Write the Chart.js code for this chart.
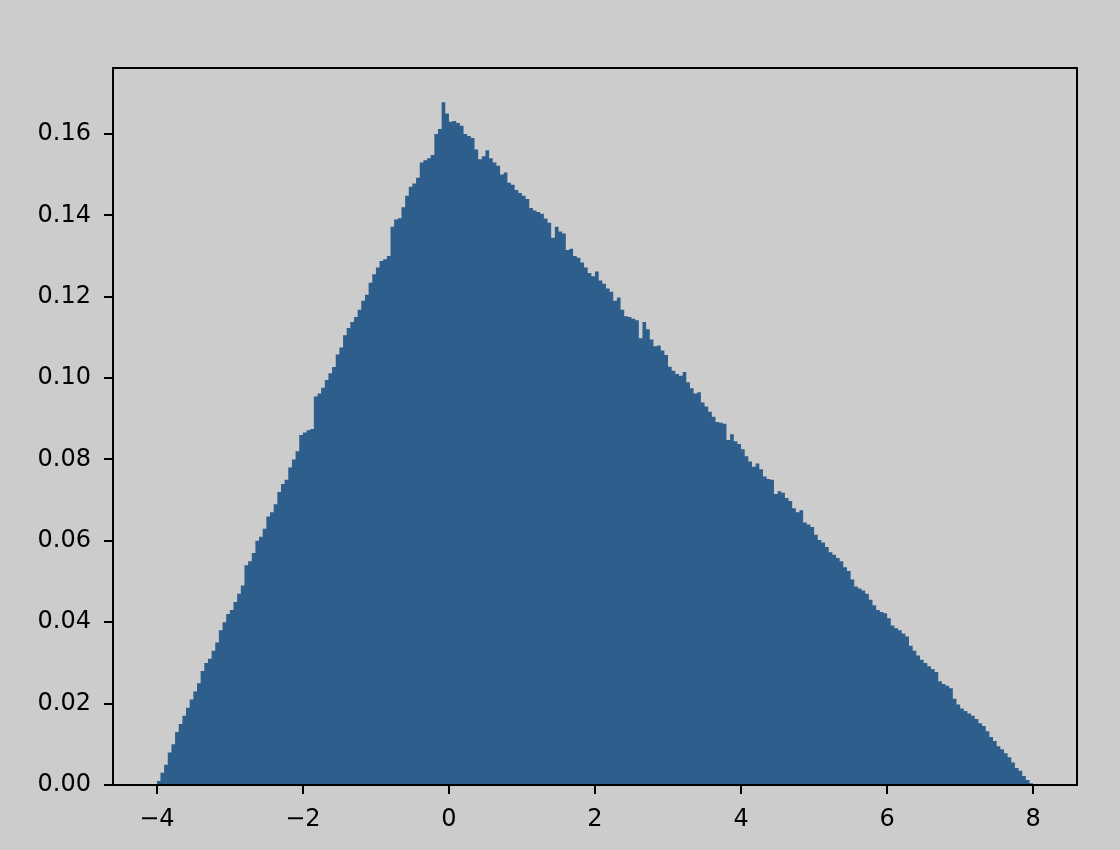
<!DOCTYPE html>
<html>
<head>
<meta charset="utf-8">
<script src="https://cdn.jsdelivr.net/npm/chart.js@4.4.1/dist/chart.umd.min.js"></script>
<style>
    html, body { margin: 0; padding: 0; background: #cccccc; }
    #wrap { width: 1120px; height: 850px; }
</style>
</head>
<body>
<div id="wrap"><canvas id="histChart" width="1120" height="850"></canvas></div>
<script>
// histogram bins: from -4 to 8, width 0.05 (240 bins)
const binStart = -4;
const binEnd = 8;
const binCount = 240;

// density per bin, left to right
const density = [
    // -4 .. -3
    0.0010, 0.0030, 0.0050, 0.0080, 0.0100, 0.0130, 0.0150, 0.0170, 0.0190, 0.0210,
    0.0230, 0.0250, 0.0280, 0.0300, 0.0310, 0.0330, 0.0350, 0.0380, 0.0400, 0.0420,
    // -3 .. -2
    0.0430, 0.0450, 0.0470, 0.0490, 0.0540, 0.0550, 0.0570, 0.0600, 0.0610, 0.0630,
    0.0660, 0.0670, 0.0690, 0.0720, 0.0740, 0.0750, 0.0780, 0.0800, 0.0820, 0.0860,
    // -2 .. -1
    0.0866, 0.0872, 0.0875, 0.0955, 0.0962, 0.0976, 0.0995, 0.1012, 0.1027, 0.1058,
    0.1075, 0.1105, 0.1123, 0.1138, 0.1150, 0.1168, 0.1190, 0.1205, 0.1234, 0.1255,
    // -1 .. 0
    0.1272, 0.1288, 0.1292, 0.1300, 0.1372, 0.1390, 0.1393, 0.1420, 0.1448, 0.1470,
    0.1478, 0.1492, 0.1530, 0.1535, 0.1540, 0.1548, 0.1600, 0.1612, 0.1678, 0.1650,
    // 0 .. 1
    0.1630, 0.1632, 0.1627, 0.1620, 0.1600, 0.1595, 0.1590, 0.1562, 0.1538, 0.1545,
    0.1560, 0.1540, 0.1530, 0.1522, 0.1500, 0.1505, 0.1480, 0.1475, 0.1462, 0.1455,
    // 1 .. 2
    0.1448, 0.1440, 0.1418, 0.1412, 0.1408, 0.1404, 0.1392, 0.1382, 0.1345, 0.1372,
    0.1360, 0.1355, 0.1315, 0.1318, 0.1300, 0.1296, 0.1284, 0.1272, 0.1258, 0.1250,
    // 2 .. 3
    0.1262, 0.1240, 0.1232, 0.1220, 0.1212, 0.1190, 0.1198, 0.1168, 0.1152, 0.1150,
    0.1146, 0.1142, 0.1098, 0.1138, 0.1120, 0.1095, 0.1078, 0.1080, 0.1068, 0.1057,
    // 3 .. 4
    0.1028, 0.1018, 0.1010, 0.1006, 0.1015, 0.0990, 0.0975, 0.0962, 0.0965, 0.0940,
    0.0930, 0.0917, 0.0905, 0.0892, 0.0890, 0.0888, 0.0848, 0.0862, 0.0845, 0.0838,
    // 4 .. 5
    0.0825, 0.0808, 0.0795, 0.0782, 0.0790, 0.0776, 0.0758, 0.0752, 0.0750, 0.0715,
    0.0722, 0.0718, 0.0705, 0.0698, 0.0680, 0.0670, 0.0675, 0.0645, 0.0640, 0.0634,
    // 5 .. 6
    0.0615, 0.0602, 0.0596, 0.0585, 0.0572, 0.0566, 0.0558, 0.0550, 0.0535, 0.0526,
    0.0505, 0.0488, 0.0483, 0.0478, 0.0470, 0.0455, 0.0442, 0.0430, 0.0425, 0.0422,
    // 6 .. 7
    0.0410, 0.0392, 0.0385, 0.0380, 0.0372, 0.0365, 0.0342, 0.0330, 0.0318, 0.0308,
    0.0300, 0.0292, 0.0285, 0.0278, 0.0255, 0.0248, 0.0244, 0.0238, 0.0212, 0.0198,
    // 7 .. 8
    0.0188, 0.0182, 0.0176, 0.0170, 0.0162, 0.0152, 0.0145, 0.0132, 0.0118, 0.0108,
    0.0095, 0.0088, 0.0078, 0.0068, 0.0055, 0.0042, 0.0035, 0.0022, 0.0012, 0.0004
];

// axis ranges and ticks
const xMin = -4.6, xMax = 8.6;
const yMin = 0, yMax = 0.1762;
const xTicks = [-4, -2, 0, 2, 4, 6, 8];
const yTicks = [0, 0.02, 0.04, 0.06, 0.08, 0.10, 0.12, 0.14, 0.16];

// step points: each bin value starts at its left edge, last edge closes to 0
const binWidth = (binEnd - binStart) / binCount;
const points = density.map((d, i) => ({ x: binStart + i * binWidth, y: d }));
points.push({ x: binEnd, y: 0 });

const FONT = { family: 'DejaVu Sans', size: 24 };
const INK = '#000000';

// frame around the plot area, drawn on top of the bars like matplotlib spines
const framePlugin = {
    id: 'frame',
    afterDatasetsDraw(chart) {
        const a = chart.chartArea;
        const ctx = chart.ctx;
        ctx.save();
        ctx.strokeStyle = INK;
        ctx.lineWidth = 2;
        ctx.strokeRect(a.left, a.top, a.right - a.left, a.bottom - a.top);
        ctx.restore();
    }
};

const ctx = document.getElementById('histChart').getContext('2d');
new Chart(ctx, {
    type: 'line',
    data: {
        datasets: [{
            data: points,
            stepped: 'before',
            fill: 'origin',
            backgroundColor: '#2d5e8c',
            borderColor: 'rgba(0,0,0,0)',
            borderWidth: 0,
            pointRadius: 0,
            tension: 0
        }]
    },
    options: {
        responsive: false,
        devicePixelRatio: 1,
        animation: false,
        events: [],
        layout: { padding: { top: 68, right: 43, left: 0, bottom: 0 } },
        plugins: {
            legend: { display: false },
            tooltip: { enabled: false }
        },
        scales: {
            x: {
                type: 'linear',
                min: xMin,
                max: xMax,
                afterFit(scale) { scale.height = 65; },
                afterBuildTicks(scale) { scale.ticks = xTicks.map(v => ({ value: v })); },
                border: { display: false },
                grid: {
                    drawOnChartArea: false,
                    drawTicks: true,
                    tickLength: 9,
                    tickColor: INK,
                    lineWidth: 2
                },
                ticks: {
                    font: FONT,
                    color: INK,
                    padding: 11,
                    maxRotation: 0,
                    autoSkip: false,
                    callback: v => (v < 0 ? '\u2212' + Math.abs(v) : String(v))
                }
            },
            y: {
                type: 'linear',
                min: yMin,
                max: yMax,
                afterFit(scale) { scale.width = 113; },
                afterBuildTicks(scale) { scale.ticks = yTicks.map(v => ({ value: v })); },
                border: { display: false },
                grid: {
                    drawOnChartArea: false,
                    drawTicks: true,
                    tickLength: 9,
                    tickColor: INK,
                    lineWidth: 2
                },
                ticks: {
                    font: FONT,
                    color: INK,
                    padding: 13,
                    autoSkip: false,
                    callback: v => v.toFixed(2)
                }
            }
        }
    },
    plugins: [framePlugin]
});
</script>
</body>
</html>
